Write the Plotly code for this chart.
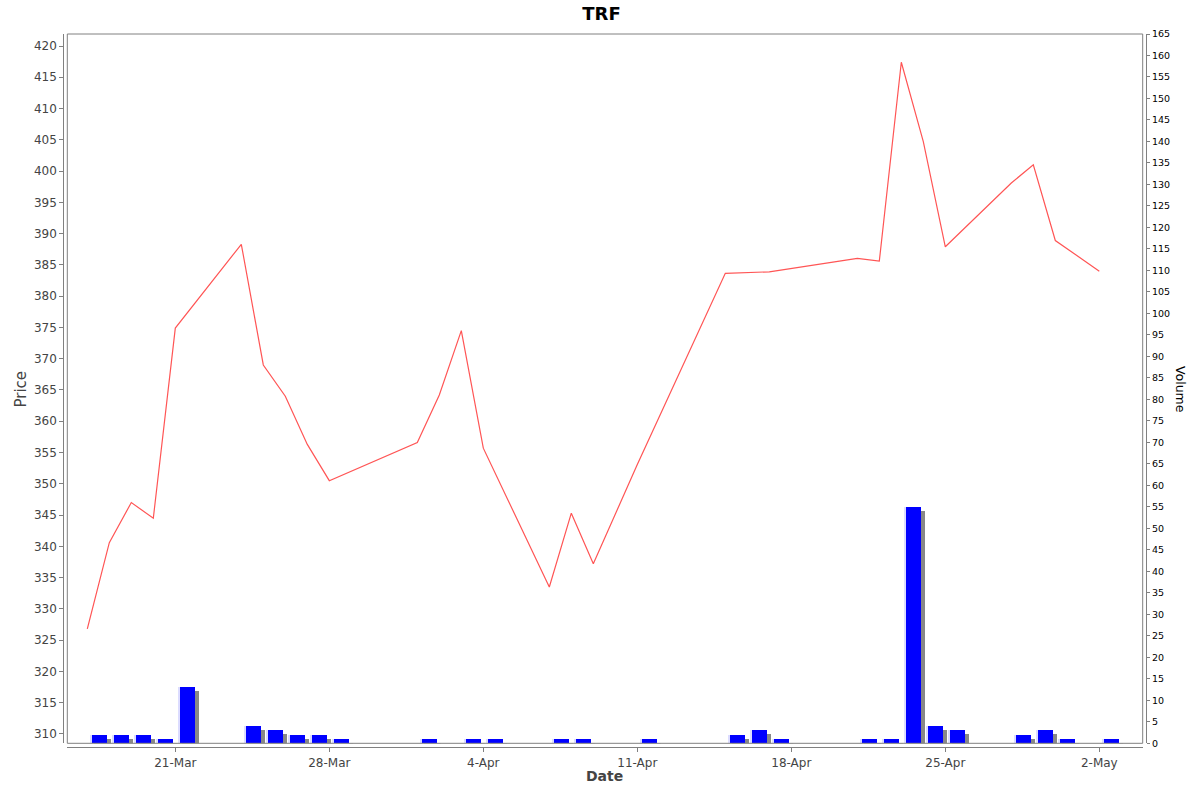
import plotly.graph_objects as go
import pandas as pd

# ---- data ----
dates = ["2025-03-17", "2025-03-18", "2025-03-19", "2025-03-20", "2025-03-21",
         "2025-03-24", "2025-03-25", "2025-03-26", "2025-03-27", "2025-03-28",
         "2025-04-01", "2025-04-02", "2025-04-03", "2025-04-04",
         "2025-04-07", "2025-04-08", "2025-04-09", "2025-04-11",
         "2025-04-15", "2025-04-16", "2025-04-17",
         "2025-04-21", "2025-04-22", "2025-04-23", "2025-04-24", "2025-04-25",
         "2025-04-28", "2025-04-29", "2025-04-30", "2025-05-02"]
prices = [326.8, 340.6, 347.0, 344.5, 374.9,
          388.3, 369.0, 364.0, 356.3, 350.5,
          356.6, 364.2, 374.5, 355.7,
          333.5, 345.3, 337.2, 353.1,
          383.65, 383.8, 383.9,
          386.05, 385.6, 417.4, 404.7, 387.9,
          398.1, 401.0, 388.9, 384.0]
volumes = [2, 2, 2, 1, 13,
           4, 3, 2, 2, 1,
           1, 0, 1, 1,
           1, 1, 0, 1,
           2, 3, 1,
           1, 1, 55, 4, 3,
           2, 3, 1, 1]
tick_dates = ["2025-03-21", "2025-03-28", "2025-04-04", "2025-04-11",
              "2025-04-18", "2025-04-25", "2025-05-02"]
tick_labels = ["21-Mar", "28-Mar", "4-Apr", "11-Apr", "18-Apr", "25-Apr", "2-May"]

# ---- geometry (styling) ----
W, H = 1200, 792
ML, MR, MT, MB = 60, 50, 30, 40
PW, PH = W - ML - MR, H - MT - MB
def px_x(x):
    return (x - ML) / PW
def px_y(y):
    return (H - MB - y) / PH

x0, x1 = px_x(67.3), px_x(1142.7)
y0, y1 = px_y(743.3), px_y(34.0)

day_ms = 86400000
px_day = 22.0
bar_w = 0.786 * day_ms
d = pd.to_datetime(dates)
bar_x = d + pd.Timedelta(hours=12.4)
shadow_x = bar_x + pd.Timedelta(hours=24 * 4 / px_day)
hl_x = bar_x - pd.Timedelta(hours=24 * 7.0 / px_day)
vol_per_px = 165 / (743.3 - 34.0)
shadow_base = -4 * vol_per_px

GRAY = "#808080"
FONT = "DejaVu Sans"

fig = go.Figure()
fig.add_trace(go.Bar(x=shadow_x, y=volumes, base=shadow_base, width=bar_w,
                     marker=dict(color="#888888", line=dict(width=0)),
                     yaxis="y2", hoverinfo="skip", showlegend=False))
fig.add_trace(go.Bar(x=bar_x, y=volumes, width=bar_w,
                     marker=dict(color="#0000FF", line=dict(width=0)),
                     yaxis="y2", name="Volume", showlegend=False))
fig.add_trace(go.Bar(x=hl_x, y=volumes, width=0.06 * day_ms,
                     marker=dict(color="#dcdcff", line=dict(width=0)),
                     yaxis="y2", hoverinfo="skip", showlegend=False))
fig.add_trace(go.Scatter(x=d, y=prices, mode="lines",
                         line=dict(color="#FF5555", width=1.2),
                         name="Price", showlegend=False))

fig.update_layout(
    width=W, height=H,
    margin=dict(l=ML, r=MR, t=MT, b=MB),
    paper_bgcolor="white", plot_bgcolor="white",
    barmode="overlay", bargap=0,
    font=dict(family=FONT, color="#444444"),
    title=dict(text="<b>TRF</b>", x=601.5 / W, xanchor="center",
               y=1 - 14 / H, yanchor="middle",
               font=dict(family=FONT, size=18, color="black")),
    xaxis=dict(type="date", domain=[x0, x1], anchor="free", position=px_y(747.3),
               range=["2025-03-16 02:10", "2025-05-03 23:20"],
               tickvals=tick_dates, ticktext=tick_labels,
               ticks="outside", ticklen=4, tickcolor=GRAY,
               showline=True, linecolor=GRAY, linewidth=1,
               showgrid=False, zeroline=False, automargin=False,
               tickfont=dict(family=FONT, size=12, color="#444444")),
    yaxis=dict(domain=[y0, y1], anchor="free", position=px_x(63.3),
               range=[308.51, 421.92], dtick=5, tick0=310,
               ticks="outside", ticklen=4, tickcolor=GRAY,
               showline=True, linecolor=GRAY, linewidth=1,
               showgrid=False, zeroline=False, automargin=False,
               tickfont=dict(family=FONT, size=12, color="#444444")),
    yaxis2=dict(overlaying="y", side="right", anchor="free", position=px_x(1146.0),
                range=[0, 165], dtick=5, tick0=0,
                ticks="outside", ticklen=3, tickcolor=GRAY,
                showline=True, linecolor=GRAY, linewidth=1,
                showgrid=False, zeroline=False, automargin=False,
                tickfont=dict(family=FONT, size=9.5, color="black")),
)

# plot frame
fig.add_shape(type="rect", xref="paper", yref="paper", x0=x0, x1=x1, y0=y0, y1=y1,
              line=dict(color=GRAY, width=1), fillcolor="rgba(0,0,0,0)", layer="above")

# axis titles
fig.add_annotation(text="Price", xref="paper", yref="paper", x=px_x(20.5), y=px_y(389),
                   textangle=-90, showarrow=False, xanchor="center", yanchor="middle",
                   font=dict(family=FONT, size=15, color="#444444"))
fig.add_annotation(text="Volume", xref="paper", yref="paper", x=px_x(1181), y=px_y(389),
                   textangle=90, showarrow=False, xanchor="center", yanchor="middle",
                   font=dict(family=FONT, size=12.5, color="black"))
fig.add_annotation(text="<b>Date</b>", xref="paper", yref="paper", x=px_x(604.5), y=px_y(776),
                   showarrow=False, xanchor="center", yanchor="middle",
                   font=dict(family=FONT, size=14, color="#444444"))

fig.write_html("out.html", config={"displayModeBar": False})
with open("out.html", "r", encoding="utf-8") as f:
    html = f.read()
html = html.replace("<head>", "<head><style>html,body{margin:0;padding:0;overflow:hidden;}</style>", 1)
with open("out.html", "w", encoding="utf-8") as f:
    f.write(html)
